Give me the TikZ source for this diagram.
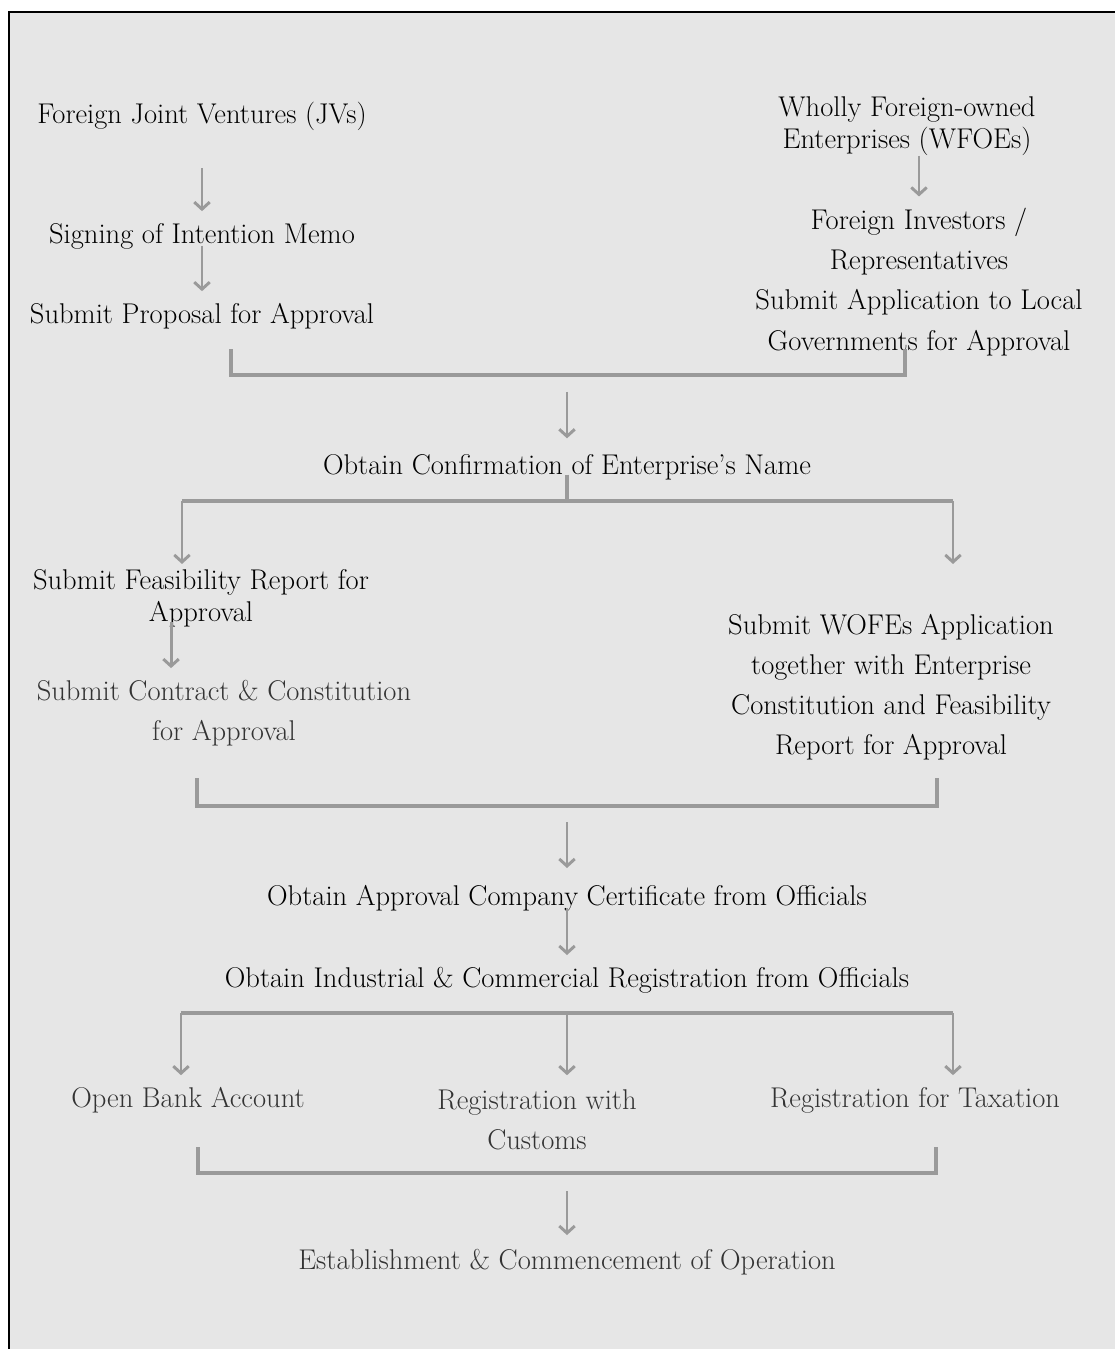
\documentclass[tikz,border=0pt]{standalone}
\usepackage{xcolor}
\usetikzlibrary{arrows.meta, positioning}
\definecolor{panelgray}{HTML}{E6E6E6}
\definecolor{linkgray}{HTML}{9A9A9A}
\definecolor{softtext}{HTML}{333333}

\begin{document}
\begin{tikzpicture}[
        x=0.025cm, y=-0.025cm,
        stage/.style={inner sep=0pt, align=center, text=black,
          font=\fontsize{20.3}{28.5}\selectfont},
        soft stage/.style={stage, text=softtext},
        tight/.style={font=\fontsize{20.3}{23}\selectfont},
        flow/.style={draw=linkgray, line width=2.1pt,
          -{Straight Barb[length=5pt, width=11pt]}, shorten >=8.3pt},
        bar/.style={draw=linkgray, line width=2.6pt}
      ]
      % Frame
      \useasboundingbox (0,0) rectangle (1115,1349);
      \fill[white] (0,0) rectangle (1115,1349);
      \fill[panelgray] (9,12) rectangle (1115,1349);
      \draw[black, line width=1.4pt] (9,1349) -- (9,12) -- (1115,12);

      % Nodes
      \node[stage] (jv) at (202,116) {Foreign Joint Ventures (JVs)};
      \node[stage] (sign) at (202,236) {Signing of Intention Memo};
      \node[stage] (prop) at (202,316) {Submit Proposal for Approval};
      \node[stage, tight] (wfoe) at (907,126) {Wholly Foreign-owned\\Enterprises (WFOEs)};
      \node[stage] (inv) at (919,282) {Foreign Investors /\\Representatives\\Submit Application to Local\\Governments for Approval};
      \node[stage] (conf) at (567,467) {Obtain Confirmation of Enterprise’s Name};
      \node[stage, tight] (feas) at (201,598) {Submit Feasibility Report for\\Approval};
      \node[soft stage] (contr) at (224,713) {Submit Contract \& Constitution\\for Approval};
      \node[stage] (wofe) at (891,687) {Submit WOFEs Application\\together with Enterprise\\Constitution and Feasibility\\Report for Approval};
      \node[stage] (cert) at (567,898) {Obtain Approval Company Certificate from Officials};
      \node[stage] (reg) at (567,980) {Obtain Industrial \& Commercial Registration from Officials};
      \node[soft stage] (bank) at (188,1100) {Open Bank Account};
      \node[soft stage] (cust) at (537,1120) {Registration with\\Customs};
      \node[soft stage] (tax) at (915,1100) {Registration for Taxation};
      \node[soft stage] (est) at (567,1262) {Establishment \& Commencement of Operation};

      % Joints of the brackets and forks
      \coordinate (b1l) at (231,349);
      \coordinate (b1r) at (905,349);
      \coordinate (m1) at (567,375);
      \coordinate (f1) at (567,501);
      \coordinate (f1l) at (182,501);
      \coordinate (f1r) at (953,501);
      \coordinate (b2l) at (197,778);
      \coordinate (b2r) at (937,778);
      \coordinate (m2) at (567,806);
      \coordinate (f3l) at (181,1013);
      \coordinate (f3m) at (567,1013);
      \coordinate (f3r) at (953,1013);
      \coordinate (b3l) at (198,1147);
      \coordinate (b3r) at (936,1147);
      \coordinate (m3) at (567,1173);

      % Edges
      \draw[flow, shorten <=26.8pt] (jv) -- (sign);
      \draw[flow, shorten <=-2.3pt] (sign) -- (prop);
      \draw[flow] (wfoe.south -| inv.north) -- (inv.north);
      \draw[bar] (b1l) |- (m1) -| (b1r);
      \draw[flow, shorten <=12pt, shorten >=11.1pt] (m1) -- (conf);
      \draw[bar, shorten <=-3.9pt] (conf) -- (f1);
      \draw[bar] (f1l) -- (f1r);
      \draw[flow, shorten >=3.4pt] (f1l) -- (f1l |- feas.north);
      \draw[flow, shorten >=3.4pt] (f1r) -- (f1r |- feas.north);
      \draw[flow, shorten <=-3.9pt] ([xshift=-21.3pt]feas.south) -- ([xshift=-21.3pt]feas.south |- contr.north);
      \draw[bar] (b2l) |- (m2) -| (b2r);
      \draw[flow, shorten <=11.4pt, shorten >=11.9pt] (m2) -- (cert);
      \draw[flow, shorten <=-2.3pt] (cert) -- (reg);
      \draw[bar] (f3l) -- (f3r);
      \draw[flow] (f3l) -- (f3l |- bank.north);
      \draw[flow] (f3m) -- (f3m |- bank.north);
      \draw[flow] (f3r) -- (f3r |- tax.north);
      \draw[bar] (b3l) |- (m3) -| (b3r);
      \draw[flow, shorten <=12.8pt, shorten >=9.8pt] (m3) -- (est);
\end{tikzpicture}
\end{document}
